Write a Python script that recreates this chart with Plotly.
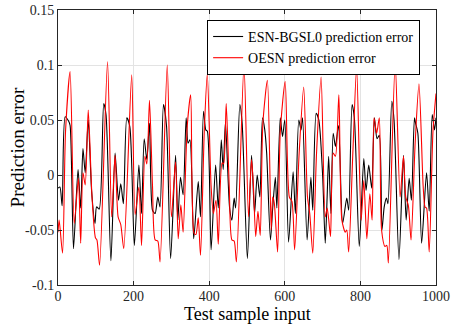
import plotly.graph_objects as go

# ESN-BGSL0 prediction error (sample index, value)
black_x = [0, 5, 11, 19, 28, 32, 41, 53, 60, 66, 72, 80, 89, 98, 102, 109, 121, 127, 140,
           151, 160, 166, 173, 182, 190, 202, 214, 221, 228, 235, 242, 250, 257, 264, 270,
           279, 287, 298, 311, 317, 324, 331, 339, 344, 349, 359, 371, 377, 385, 391, 395,
           405, 417, 424, 432, 437, 443, 454, 460, 466, 470, 481, 487, 501, 512, 520, 527,
           534, 541, 547, 552, 562, 568, 575, 579, 588, 594, 600, 610, 622, 628, 637, 643,
           647, 659, 669, 674, 683, 690, 700, 707, 712, 716, 722, 728, 734, 742, 753, 764,
           769, 778, 784, 797, 809, 815, 822, 830, 837, 844, 850, 857, 863, 869, 873, 883,
           889, 902, 914, 921, 929, 935, 943, 946, 952, 962, 975, 982, 990, 996, 1000]
black_y = [-0.012, -0.011, -0.028, 0.053, 0.049, 0.045, -0.067, 0.005, -0.03, 0.024, 0.002,
           0.05, -0.015, -0.044, -0.029, -0.031, 0.065, 0.055, -0.078,
           0.02, -0.023, -0.008, -0.026, 0.052, 0.044, -0.064, 0.009, -0.035, 0.033, 0.014,
           0.047, -0.032, -0.035, -0.02, -0.029,
           0.064, 0.045, -0.076, 0.018, -0.041, -0.002, -0.018, 0.052, 0.029, 0.032, -0.058,
           -0.006, -0.038, 0.058, 0.041, 0.04,
           -0.068, 0.009, -0.03, 0.032, 0.005, 0.048, -0.03, -0.041, -0.021, -0.03, 0.064,
           0.048, -0.076, 0.018, -0.035, 0.0,
           -0.02, 0.052, 0.041, 0.02, -0.059, -0.03, -0.002, -0.03, 0.052, 0.035, 0.05,
           -0.061, 0.003, -0.035, 0.05, 0.041,
           0.052, -0.059, -0.002, -0.032, 0.056, 0.05, 0.0, -0.062, -0.02, 0.017, -0.035,
           0.038, 0.026, 0.045, -0.044, -0.021,
           -0.032, 0.064, 0.052, -0.065, 0.015, -0.014, 0.009, -0.012, 0.052, 0.033, 0.036,
           -0.05, -0.029, -0.021, -0.026, 0.067,
           0.05, -0.077, 0.018, -0.041, -0.003, -0.023, 0.052, 0.047, 0.038, -0.062, 0.002,
           -0.033, 0.055, 0.041, 0.052]

# OESN prediction error (sample index, value)
red_x = [0, 3, 12, 20, 32, 43, 54, 60, 66, 72, 80, 90, 99, 103, 110, 131, 142, 151, 159,
         166, 174, 195, 204, 214, 221, 230, 235, 242, 250, 257, 264, 270, 289, 300, 311,
         318, 325, 331, 342, 351, 360, 365, 371, 377, 387, 395, 405, 411, 418, 424, 434,
         438, 445, 453, 460, 466, 472, 492, 504, 512, 517, 523, 529, 535, 542, 554, 564,
         568, 572, 581, 588, 601, 612, 619, 626, 638, 650, 660, 666, 674, 684, 696, 707,
         712, 716, 721, 728, 734, 743, 751, 760, 764, 769, 780, 790, 802, 809, 817, 825,
         831, 836, 843, 850, 856, 865, 870, 874, 892, 905, 914, 920, 927, 934, 945, 955,
         966, 971, 975, 982, 992, 1000]
red_y = [-0.052, -0.041, -0.071, 0.04, 0.094, -0.044, -0.003, -0.062, 0.002, -0.009, 0.059,
         -0.02, -0.057, -0.059, -0.082, 0.103, -0.038, 0.018, -0.038,
         -0.045, -0.067, 0.091, -0.036, -0.011, -0.064, 0.017, 0.01, 0.068, -0.01, -0.059,
         -0.06, -0.079, 0.1, -0.038, 0.012,
         -0.058, -0.027, -0.052, 0.045, 0.073, -0.053, -0.054, -0.039, -0.073, 0.04, 0.092,
         -0.01, -0.035, -0.023, -0.063, 0.011,
         0.01, 0.065, -0.01, -0.059, -0.06, -0.079, 0.1, -0.038, 0.014, -0.01, -0.056,
         -0.033, -0.055, 0.047, 0.086, -0.05,
         -0.02, -0.025, -0.07, 0.039, 0.085, -0.02, -0.024, -0.068, 0.02, 0.08, -0.02,
         -0.035, -0.071, 0.02, 0.089, -0.038,
         -0.03, -0.04, -0.056, 0.02, 0.017, 0.073, -0.041, -0.052, -0.05, -0.07, 0.02,
         0.098, -0.041, -0.005, -0.058, -0.017,
         -0.041, 0.052, 0.038, 0.052, -0.05, -0.065, -0.064, -0.08, 0.102, -0.02, 0.017,
         -0.02, -0.028, -0.059, 0.03, 0.083,
         -0.01, -0.029, -0.03, -0.07, 0.04, 0.074]

x_ticks = [0, 200, 400, 600, 800, 1000]
y_ticks = [-0.1, -0.05, 0, 0.05, 0.1, 0.15]
y_ticktext = ["-0.1", "-0.05", "0", "0.05", "0.1", "0.15"]
x_title = "Test sample input"
y_title = "Prediction error"

FONT = "Liberation Serif, Times New Roman, serif"

fig = go.Figure()
fig.add_trace(go.Scatter(x=black_x, y=black_y, mode="lines",
                         name="ESN-BGSL0 prediction error",
                         line=dict(color="#000000", width=1.1, shape="spline", smoothing=0.7)))
fig.add_trace(go.Scatter(x=red_x, y=red_y, mode="lines",
                         name="OESN prediction error",
                         line=dict(color="#ff0000", width=1.1, shape="spline", smoothing=0.7)))

axis_common = dict(showgrid=True, gridcolor="#e3e3e3", gridwidth=1,
                   showline=True, linecolor="#262626", linewidth=1, mirror="ticks",
                   ticks="inside", ticklen=4, tickcolor="#262626", zeroline=False,
                   automargin=False,
                   tickfont=dict(family=FONT, size=14, color="#262626"))

fig.update_xaxes(range=[0, 1000], tickvals=x_ticks, ticklabelstandoff=-2, **axis_common)
fig.update_yaxes(range=[-0.1, 0.15], tickvals=y_ticks, ticktext=y_ticktext, **axis_common)

fig.add_annotation(text=x_title, xref="paper", yref="paper", x=0.5, y=-0.146,
                   xanchor="center", yanchor="bottom", showarrow=False, borderpad=0,
                   font=dict(family=FONT, size=18, color="#000000"))
fig.add_annotation(text=y_title, xref="paper", yref="paper", x=-0.106, y=0.5,
                   xanchor="center", yanchor="middle", textangle=-90, showarrow=False,
                   font=dict(family=FONT, size=19, color="#000000"))

fig.update_layout(
    width=455, height=324,
    margin=dict(l=58, r=19, t=10, b=39),
    paper_bgcolor="white", plot_bgcolor="white",
    showlegend=True,
    legend=dict(x=0.958, xanchor="right", y=0.964, yanchor="top",
                bgcolor="white", bordercolor="#000000", borderwidth=1,
                font=dict(family=FONT, size=14, color="#000000"),
                itemwidth=30, tracegroupgap=0),
)

fig.write_html("out.html")
